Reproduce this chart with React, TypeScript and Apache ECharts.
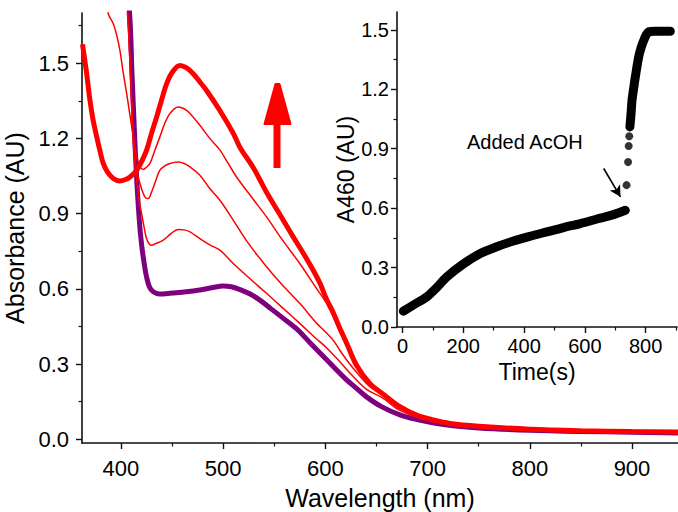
import React, { useEffect, useRef } from "react";
import * as echarts from "echarts";

// ---------- Main chart data: absorbance spectra [wavelength nm, absorbance AU] ----------
const initialSpectrum: [number, number][] = [
  [405, 1.78], [408.5, 1.7], [411, 1.45], [413.8, 1.18], [416, 1.0], [418.5, 0.85], [420.5, 0.77],
  [422.5, 0.71], [425, 0.65], [428, 0.607], [431.7, 0.588], [438, 0.579], [450, 0.583], [464, 0.588],
  [477, 0.595], [490, 0.605], [500, 0.611], [508, 0.608], [516, 0.598], [526, 0.58], [536, 0.555],
  [547, 0.52], [559, 0.482], [572, 0.44], [585, 0.385], [597, 0.335], [608, 0.289], [620, 0.24],
  [630, 0.205], [640, 0.17], [655, 0.13], [673, 0.097], [690, 0.078], [705, 0.066], [725, 0.054],
  [750, 0.045], [800, 0.036], [850, 0.031], [900, 0.028], [945, 0.025],
];

const step1Spectrum: [number, number][] = [
  [385, 1.78], [387.7, 1.697], [392.6, 1.657], [396, 1.61], [399.1, 1.551], [402, 1.47], [405.7, 1.378],
  [409, 1.29], [412.1, 1.206], [415.5, 1.13], [418.7, 1.086], [421.9, 1.076], [425, 1.085], [428.5, 1.1],
  [433, 1.15], [438.2, 1.206], [443, 1.26], [448, 1.299], [456, 1.325], [462, 1.318], [467.6, 1.299],
  [477.3, 1.252], [487, 1.2], [497, 1.153], [505, 1.1], [513.2, 1.046], [528, 0.965], [542.5, 0.887],
  [558, 0.795], [575, 0.701], [590, 0.61], [603, 0.53], [614, 0.43], [621, 0.37], [630, 0.31],
  [643, 0.225], [656, 0.18], [673, 0.125], [700, 0.082], [750, 0.05], [800, 0.039], [900, 0.03], [945, 0.028],
];

const step2Spectrum: [number, number][] = [
  [404, 1.78], [406.5, 1.7], [409.5, 1.45], [412, 1.22], [415, 1.08], [418.7, 1.02], [421.9, 0.98],
  [424.5, 0.962], [426.8, 0.96], [430, 0.985], [434, 1.03], [438.2, 1.073], [443, 1.09], [448, 1.1],
  [456, 1.106], [462, 1.1], [467.6, 1.086], [477.3, 1.053], [487, 1.0], [496.9, 0.953], [509.9, 0.874],
  [525, 0.78], [542.5, 0.688], [558, 0.615], [575, 0.542], [590, 0.47], [607.7, 0.395], [614, 0.356],
  [622, 0.31], [632, 0.26], [643, 0.212], [656, 0.175], [673, 0.122], [700, 0.08], [750, 0.049],
  [800, 0.038], [900, 0.029], [945, 0.027],
];

const step3Spectrum: [number, number][] = [
  [404, 1.78], [406.5, 1.7], [409.5, 1.45], [412, 1.2], [415, 1.05], [418, 0.95], [420.3, 0.9],
  [423, 0.84], [425.2, 0.8], [428, 0.778], [430.1, 0.774], [434, 0.78], [441.5, 0.794], [449, 0.82],
  [456.1, 0.837], [462, 0.835], [467.6, 0.827], [477.3, 0.8], [487, 0.775], [496.9, 0.754],
  [509.9, 0.701], [525, 0.645], [542.5, 0.582], [558, 0.525], [575, 0.462], [590, 0.405],
  [601.2, 0.365], [614, 0.31], [625, 0.26], [640, 0.2], [656, 0.165], [673, 0.115], [700, 0.078],
  [750, 0.048], [800, 0.037], [900, 0.028], [945, 0.026],
];

const finalSpectrum: [number, number][] = [
  [362.5, 1.575], [366.5, 1.46], [369.8, 1.351], [373, 1.27], [376.4, 1.206], [379.6, 1.15],
  [382.8, 1.1], [387, 1.065], [392.6, 1.04], [399, 1.03], [404, 1.035], [409, 1.046], [415.5, 1.073],
  [420, 1.105], [425.2, 1.153], [430, 1.22], [435, 1.285], [440, 1.355], [444.8, 1.418], [450, 1.462],
  [457.8, 1.491], [464, 1.482], [470.8, 1.458], [477.3, 1.425], [484, 1.39], [497, 1.31], [510, 1.22],
  [516.4, 1.165], [530, 1.08], [542.5, 0.985], [555, 0.9], [568.6, 0.807], [578, 0.745], [588, 0.675],
  [595, 0.62], [601, 0.56], [607.7, 0.505], [614, 0.445], [620.7, 0.385], [630.5, 0.295],
  [643.5, 0.223], [656, 0.182], [673, 0.13], [690, 0.095], [705.5, 0.077], [722, 0.063], [750, 0.052],
  [800, 0.04], [850, 0.034], [900, 0.031], [945, 0.029],
];

// ---------- Inset data: A460 vs time [s, AU] ----------
const kineticsBeforeAcid: [number, number][] = [
  [3, 0.08], [40, 0.115], [80, 0.152], [110, 0.195], [146, 0.253], [200, 0.318], [256, 0.371],
  [310, 0.405], [365, 0.434], [420, 0.458], [475, 0.48], [530, 0.502], [585, 0.522], [640, 0.545],
  [694, 0.567], [733, 0.589],
];
const kineticsJump: [number, number][] = [
  [737, 0.716], [742, 0.833], [744, 0.914], [746, 0.963],
];
const kineticsAfterAcid: [number, number][] = [
  [748, 1.01], [752, 1.08], [755, 1.144], [760, 1.2], [766, 1.263], [777, 1.364], [786, 1.415],
  [794, 1.448], [802, 1.475], [810, 1.49], [830, 1.493], [860, 1.493], [881, 1.493],
];

// ---------- Tick values ----------
const mainXTicks = [400, 500, 600, 700, 800, 900];
const mainXMinor = [450, 550, 650, 750, 850];
const mainYTicks = [0, 0.3, 0.6, 0.9, 1.2, 1.5];
const mainYMinor = [0.15, 0.45, 0.75, 1.05, 1.35, 1.65];
const insetXTicks = [0, 200, 400, 600, 800];
const insetXMinor = [100, 300, 500, 700, 900];
const insetYTicks = [0, 0.3, 0.6, 0.9, 1.2, 1.5];
const insetYMinor = [0.15, 0.45, 0.75, 1.05, 1.35];

const FONT = '"Liberation Sans", Arial, Helvetica, sans-serif';
const AXIS_COLOR = "#111";

function majorAxis(opts: any) {
  const { gridIndex, min, max, ticks, fmt, fontSize, margin, name, nameGap, nameSize, position } = opts;
  return {
    type: "value",
    gridIndex,
    min,
    max,
    position,
    axisLine: { show: true, onZero: false, lineStyle: { color: AXIS_COLOR, width: 1.6 } },
    axisTick: { show: true, inside: false, length: 6, customValues: ticks, lineStyle: { color: AXIS_COLOR, width: 1.4 } },
    axisLabel: {
      show: true,
      customValues: ticks,
      formatter: fmt,
      fontSize,
      color: "#000",
      fontFamily: FONT,
      margin,
    },
    splitLine: { show: false },
    name,
    nameLocation: "middle",
    nameGap,
    nameTextStyle: { fontSize: nameSize, color: "#000", fontFamily: FONT },
  };
}

function minorAxis(opts: any) {
  const { gridIndex, min, max, ticks, position } = opts;
  return {
    type: "value",
    gridIndex,
    min,
    max,
    position,
    axisLine: { show: false, onZero: false },
    axisTick: { show: true, inside: false, length: 3.5, customValues: ticks, lineStyle: { color: AXIS_COLOR, width: 1.2 } },
    axisLabel: { show: false },
    splitLine: { show: false },
  };
}

export default function App() {
  const ref = useRef<HTMLDivElement>(null);

  useEffect(() => {
    if (!ref.current) return;
    const chart = echarts.init(ref.current, null, { renderer: "svg" });

    const mainX = { min: 362, max: 945 };
    const mainY = { min: -0.015, max: 1.7 };
    const insetX = { min: -18, max: 903 };
    const insetY = { min: 0, max: 1.59 };

    const thin = (data: [number, number][]) => ({
      type: "line",
      xAxisIndex: 0,
      yAxisIndex: 0,
      data,
      smooth: 0.35,
      showSymbol: false,
      symbol: "none",
      lineStyle: { color: "#ff0000", width: 1.5 },
      z: 3,
    });

    const option: any = {
      animation: false,
      backgroundColor: "#fff",
      grid: [
        { left: 82, right: 0, top: 13, bottom: 69, containLabel: false, outerBoundsMode: "none" },
        { left: 397, right: 1, top: 12, bottom: 185, containLabel: false, outerBoundsMode: "none" },
      ],
      xAxis: [
        majorAxis({
          gridIndex: 0, ...mainX, ticks: mainXTicks, fmt: (v: number) => String(v), fontSize: 22, margin: 14,
          name: "Wavelength (nm)", nameGap: 42, nameSize: 25, position: "bottom",
        }),
        minorAxis({ gridIndex: 0, ...mainX, ticks: mainXMinor, position: "bottom" }),
        majorAxis({
          gridIndex: 1, ...insetX, ticks: insetXTicks, fmt: (v: number) => String(v), fontSize: 20, margin: 9,
          name: "Time(s)", nameGap: 26, nameSize: 23, position: "bottom",
        }),
        minorAxis({ gridIndex: 1, ...insetX, ticks: insetXMinor, position: "bottom" }),
      ],
      yAxis: [
        majorAxis({
          gridIndex: 0, ...mainY, ticks: mainYTicks, fmt: (v: number) => v.toFixed(1), fontSize: 22, margin: 13,
          name: "Absorbance (AU)", nameGap: 46, nameSize: 25, position: "left",
        }),
        minorAxis({ gridIndex: 0, ...mainY, ticks: mainYMinor, position: "left" }),
        majorAxis({
          gridIndex: 1, ...insetY, ticks: insetYTicks, fmt: (v: number) => v.toFixed(1), fontSize: 20, margin: 8,
          name: "A460 (AU)", nameGap: 40, nameSize: 23, position: "left",
        }),
        minorAxis({ gridIndex: 1, ...insetY, ticks: insetYMinor, position: "left" }),
      ],
      series: [
        {
          type: "line",
          xAxisIndex: 0,
          yAxisIndex: 0,
          data: initialSpectrum,
          smooth: 0.35,
          showSymbol: false,
          symbol: "none",
          lineStyle: { color: "#7f007f", width: 5 },
          z: 2,
        },
        thin(step3Spectrum),
        thin(step2Spectrum),
        thin(step1Spectrum),
        {
          type: "line",
          xAxisIndex: 0,
          yAxisIndex: 0,
          data: finalSpectrum,
          smooth: 0.35,
          showSymbol: false,
          symbol: "none",
          lineStyle: { color: "#ff0000", width: 5 },
          z: 4,
        },
        {
          type: "line",
          xAxisIndex: 2,
          yAxisIndex: 2,
          data: kineticsBeforeAcid,
          smooth: 0.3,
          showSymbol: false,
          symbol: "none",
          lineStyle: { color: "#000", width: 9, cap: "round", join: "round" },
          markLine: {
            silent: true,
            symbol: ["none", "arrow"],
            symbolSize: [9, 11],
            label: { show: false },
            lineStyle: { color: "#000", width: 1.6, type: "solid" },
            data: [[{ coord: [662, 0.8] }, { coord: [717, 0.657] }]],
          },
          z: 5,
        },
        {
          type: "scatter",
          xAxisIndex: 2,
          yAxisIndex: 2,
          data: kineticsJump,
          symbol: "circle",
          symbolSize: 8,
          itemStyle: { color: "#000" },
          z: 5,
        },
        {
          type: "line",
          xAxisIndex: 2,
          yAxisIndex: 2,
          data: kineticsAfterAcid,
          smooth: 0.3,
          showSymbol: false,
          symbol: "none",
          lineStyle: { color: "#000", width: 9, cap: "round", join: "round" },
          z: 5,
        },
      ],
      graphic: [
        {
          type: "text",
          x: 467,
          y: 142,
          style: {
            text: "Added AcOH",
            fill: "#000",
            fontSize: 20,
            fontFamily: FONT,
            textVerticalAlign: "middle",
            verticalAlign: "middle",
          },
        },
        {
          type: "group",
          children: [
            {
              type: "polygon",
              shape: { points: [[264.5, 124], [290.5, 124], [279.5, 84], [275.5, 84]] },
              style: { fill: "#ff0000", lineJoin: "round", stroke: "#ff0000", lineWidth: 2 },
            },
            {
              type: "rect",
              shape: { x: 273.5, y: 122, width: 7, height: 46 },
              style: { fill: "#ff0000" },
            },
          ],
        },
      ],
    };

    chart.setOption(option);
    return () => chart.dispose();
  }, []);

  return (
    <div
      ref={ref}
      style={{ position: "fixed", left: 0, top: 0, width: 678, height: 512, background: "#fff" }}
    />
  );
}
